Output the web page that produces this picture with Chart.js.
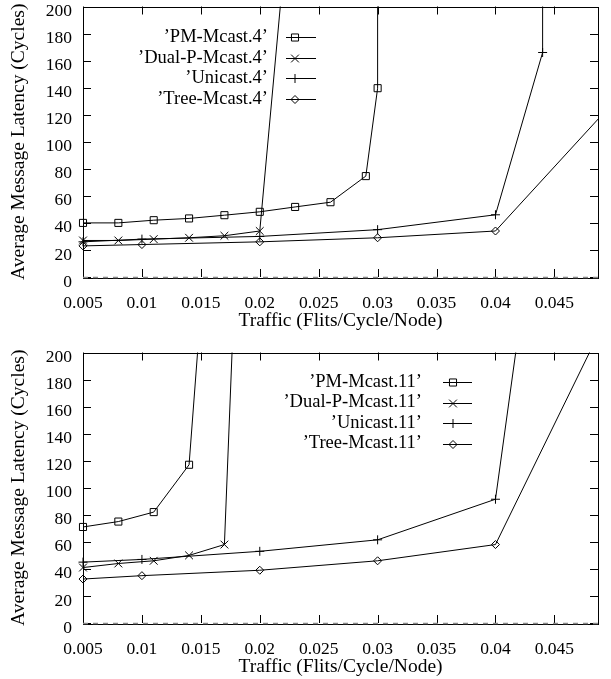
<!DOCTYPE html>
<html>
<head>
<meta charset="utf-8">
<script src="https://cdn.jsdelivr.net/npm/chart.js@4/dist/chart.umd.min.js"></script>
<style>
html, body { margin: 0; padding: 0; background: #fff; overflow: hidden; }
canvas { display: block; }
</style>
</head>
<body>
<canvas id="top" width="611" height="346"></canvas>
<canvas id="bottom" width="611" height="346"></canvas>
<script>
// tick labels
const xTicks = [0.005, 0.01, 0.015, 0.02, 0.025, 0.03, 0.035, 0.04, 0.045];
const xTickLabels = ['0.005', '0.01', '0.015', '0.02', '0.025', '0.03', '0.035', '0.04', '0.045'];
const yTicks = [0, 20, 40, 60, 80, 100, 120, 140, 160, 180, 200];
const yTickLabels = ['0', '20', '40', '60', '80', '100', '120', '140', '160', '180', '200'];

// top plot (.4)
const pm4X = [0.005, 0.008, 0.011, 0.014, 0.017, 0.020, 0.023, 0.026, 0.029, 0.030, 0.030];
const pm4Y = [40, 40, 42, 43.3, 45.7, 48.2, 51.8, 55.3, 74.6, 139.6, 420];
const dp4X = [0.005, 0.008, 0.011, 0.014, 0.017, 0.020, 0.023];
const dp4Y = [27, 27, 28, 29, 30.5, 34, 320];
const uc4X = [0.005, 0.010, 0.020, 0.030, 0.040, 0.044, 0.044];
const uc4Y = [26, 28, 30, 35, 46, 166, 420];
const tm4X = [0.005, 0.010, 0.020, 0.030, 0.040, 0.050];
const tm4Y = [23, 24, 26, 29, 34, 129];

// bottom plot (.11)
const pm11X = [0.005, 0.008, 0.011, 0.014, 0.017];
const pm11Y = [71, 75, 82, 117, 462];
const dp11X = [0.005, 0.008, 0.011, 0.014, 0.017, 0.020];
const dp11Y = [41, 44, 46, 50, 58, 717];
const uc11X = [0.005, 0.010, 0.020, 0.030, 0.040, 0.044];
const uc11Y = [45, 47, 53, 61.5, 91.5, 344];
const tm11X = [0.005, 0.010, 0.020, 0.030, 0.040, 0.050];
const tm11Y = [32.5, 35, 39, 46, 58, 236];

const family = '"Liberation Serif", "Times New Roman", serif';
const markers = [
    { pointStyle: 'rect', radius: 5 },
    { pointStyle: 'crossRot', radius: 5.5 },
    { pointStyle: 'cross', radius: 4.5 },
    { pointStyle: 'rectRot', radius: 4 }
];

// border with inward ticks on all four sides, dashed zero line
const framePlugin = {
    id: 'frame',
    afterDraw(chart) {
        const ctx = chart.ctx;
        const a = chart.chartArea;
        const xs = chart.scales.x, ys = chart.scales.y;
        ctx.save();
        ctx.strokeStyle = '#000';
        ctx.lineWidth = 1;
        ctx.strokeRect(Math.round(a.left) + 0.5, Math.round(a.top) + 0.5,
            Math.round(a.right - a.left), Math.round(a.bottom - a.top));
        ctx.beginPath();
        xTicks.forEach(v => {
            const px = Math.round(xs.getPixelForValue(v)) + 0.5;
            ctx.moveTo(px, a.bottom); ctx.lineTo(px, a.bottom - 8);
            ctx.moveTo(px, a.top); ctx.lineTo(px, a.top + 8);
        });
        yTicks.forEach(v => {
            const py = Math.round(ys.getPixelForValue(v)) + 0.5;
            ctx.moveTo(a.left, py); ctx.lineTo(a.left + 8, py);
            ctx.moveTo(a.right, py); ctx.lineTo(a.right - 8, py);
        });
        ctx.stroke();
        const y0 = Math.round(ys.getPixelForValue(0)) + 0.5;
        ctx.strokeStyle = '#888';
        ctx.lineWidth = 1.5;
        ctx.setLineDash([5, 5]);
        ctx.beginPath();
        ctx.moveTo(a.left, y0); ctx.lineTo(a.right, y0);
        ctx.stroke();
        ctx.restore();
    }
};

// gnuplot style key: label right aligned, then sample line with marker
const keyPlugin = {
    id: 'key',
    afterDraw(chart, args, opts) {
        const ctx = chart.ctx;
        ctx.save();
        ctx.font = '18.5px ' + family;
        ctx.fillStyle = '#000';
        ctx.textAlign = 'right';
        ctx.textBaseline = 'middle';
        chart.data.datasets.forEach((ds, i) => {
            const y = opts.y0 + i * opts.dy;
            ctx.fillText(ds.label, opts.textRight, y);
            ctx.strokeStyle = '#000';
            ctx.lineWidth = 1;
            ctx.beginPath();
            ctx.moveTo(opts.lineX0, Math.round(y) + 0.5);
            ctx.lineTo(opts.lineX1, Math.round(y) + 0.5);
            ctx.stroke();
            if (Chart.helpers && Chart.helpers.drawPoint) {
                ctx.fillStyle = 'rgba(0,0,0,0)';
                Chart.helpers.drawPoint(ctx, {
                    pointStyle: ds.pointStyle, radius: ds.pointRadius,
                    rotation: 0, borderWidth: 1
                }, opts.markX, Math.round(y) + 0.5);
                ctx.fillStyle = '#000';
            }
        });
        ctx.restore();
    }
};

function makeChart(id, names, xs, ys, key) {
    const datasets = names.map((name, i) => ({
        label: name,
        data: xs[i].map((v, j) => ({ x: v, y: ys[i][j] })),
        borderColor: '#000',
        borderWidth: 1,
        pointStyle: markers[i].pointStyle,
        pointRadius: markers[i].radius,
        pointBorderColor: '#000',
        pointBackgroundColor: 'rgba(0,0,0,0)',
        pointBorderWidth: 1,
        tension: 0,
        clip: { left: 10, top: 0, right: 0, bottom: 10 }
    }));
    return new Chart(document.getElementById(id), {
        type: 'line',
        data: { datasets: datasets },
        options: {
            responsive: false,
            animation: false,
            layout: { padding: { top: 5, right: 13, left: 0, bottom: 0 } },
            plugins: {
                legend: { display: false },
                tooltip: { enabled: false },
                key: key
            },
            scales: {
                x: {
                    type: 'linear',
                    min: 0.005,
                    max: 0.0487,
                    afterBuildTicks: s => { s.ticks = xTicks.map(v => ({ value: v })); },
                    afterFit: s => {
                        s.height = 69;
                        s.paddingLeft = 0; s.paddingRight = 0;
                        s.paddingTop = 0; s.paddingBottom = 0;
                    },
                    grid: { display: false, drawTicks: false },
                    border: { display: false },
                    ticks: {
                        padding: 15.5, color: '#000', maxRotation: 0, autoSkip: false,
                        font: { family: family, size: 17.5 },
                        callback: (v, i) => xTickLabels[i]
                    },
                    title: {
                        display: true, text: 'Traffic (Flits/Cycle/Node)', color: '#000',
                        font: { family: family, size: 19.5 },
                        padding: { top: 0, bottom: 13.3 }
                    }
                },
                y: {
                    min: 0,
                    max: 200,
                    afterBuildTicks: s => { s.ticks = yTicks.map(v => ({ value: v })); },
                    afterFit: s => {
                        s.width = 83;
                        s.paddingLeft = 0; s.paddingRight = 0;
                        s.paddingTop = 0; s.paddingBottom = 0;
                    },
                    grid: { display: false, drawTicks: false },
                    border: { display: false },
                    ticks: {
                        padding: 11, labelOffset: 5, color: '#000', autoSkip: false,
                        font: { family: family, size: 17.5 },
                        callback: (v, i) => yTickLabels[i]
                    },
                    title: {
                        display: true, text: 'Average Message Latency (Cycles)', color: '#000',
                        font: { family: family, size: 19.5 },
                        padding: { top: 7.3, bottom: 0 }
                    }
                }
            }
        },
        plugins: [framePlugin, keyPlugin]
    });
}

makeChart('top',
    ['\u2019PM-Mcast.4\u2019', '\u2019Dual-P-Mcast.4\u2019', '\u2019Unicast.4\u2019', '\u2019Tree-Mcast.4\u2019'],
    [pm4X, dp4X, uc4X, tm4X], [pm4Y, dp4Y, uc4Y, tm4Y],
    { textRight: 268, lineX0: 286, lineX1: 316, markX: 295, y0: 37, dy: 20.7 });

makeChart('bottom',
    ['\u2019PM-Mcast.11\u2019', '\u2019Dual-P-Mcast.11\u2019', '\u2019Unicast.11\u2019', '\u2019Tree-Mcast.11\u2019'],
    [pm11X, dp11X, uc11X, tm11X], [pm11Y, dp11Y, uc11Y, tm11Y],
    { textRight: 422, lineX0: 443, lineX1: 472, markX: 453, y0: 36, dy: 20.5 });
</script>
</body>
</html>
